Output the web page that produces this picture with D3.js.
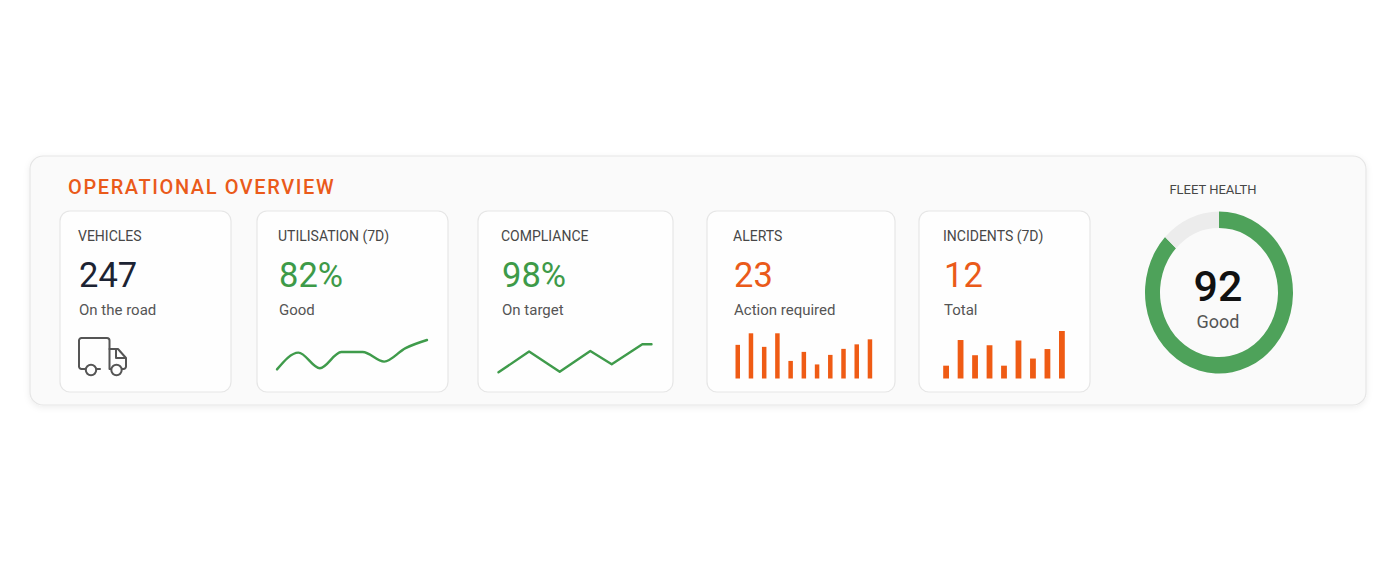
<!DOCTYPE html>
<html>
<head>
<meta charset="utf-8">
<script src="https://cdn.jsdelivr.net/npm/d3@7"></script>
<style>
  html, body { margin: 0; padding: 0; background: #ffffff; }
  svg { display: block; font-family: Roboto, "Noto Sans", sans-serif; }
</style>
</head>
<body>
<svg id="chart" width="1400" height="572"></svg>
<script>
// ---------------- DATA ----------------
const title = "OPERATIONAL OVERVIEW";
const cardLabels = ["VEHICLES", "UTILISATION (7D)", "COMPLIANCE", "ALERTS", "INCIDENTS (7D)"];
const cardValues = ["247", "82%", "98%", "23", "12"];
const cardNotes = ["On the road", "Good", "On target", "Action required", "Total"];
const cardTones = ["dark", "green", "green", "orange", "orange"];

const utilisationDays = [0, 1, 2, 3, 4, 5, 6, 7];
const utilisationValues = [74.2, 79.8, 74.6, 80, 80, 76.8, 81.3, 84];

const complianceDays = [0, 1, 2, 3, 3.7, 4.7, 5];
const complianceValues = [89.9, 97.3, 90.1, 97.5, 92.8, 99.9, 99.9];

const alertValues = [6.7, 9, 6.3, 9, 3.5, 5.3, 2.8, 4.7, 5.9, 6.8, 7.8];
const incidentValues = [2.7, 8.1, 4.9, 7, 2.7, 8, 4.2, 6.2, 10];

const fleetLabel = "FLEET HEALTH";
const fleetScore = "92";
const fleetNote = "Good";
const fleetArc = [87, 13]; // filled, remaining (as drawn)

// ---------------- STYLE / LAYOUT ----------------
const colors = {
  dark: "#1c2333", green: "#3d9a48", orange: "#ea5a1a",
  label: "#474747", note: "#555555", line: "#3f9b4b",
  bar: "#ef5b14", ring: "#4ea25a", track: "#ececec"
};
const cardBoxes = [
  { x: 60, w: 171, tx: 78 },
  { x: 257, w: 191, tx: 278 },
  { x: 478, w: 195, tx: 501 },
  { x: 707, w: 188, tx: 733 },
  { x: 919, w: 171, tx: 943 }
];
const cardTop = 211, cardH = 181;

const svg = d3.select("#chart");
const defs = svg.append("defs");
const f = defs.append("filter").attr("id", "sh").attr("x", "-5%").attr("y", "-10%").attr("width", "110%").attr("height", "130%");
f.append("feDropShadow").attr("dx", 0).attr("dy", 2).attr("stdDeviation", 3).attr("flood-color", "#000").attr("flood-opacity", 0.07);

// panel
svg.append("rect")
  .attr("x", 30).attr("y", 156).attr("width", 1336).attr("height", 249)
  .attr("rx", 13).attr("fill", "#fafafa").attr("stroke", "#e6e6e6").attr("stroke-width", 1.2)
  .attr("filter", "url(#sh)");

svg.append("text")
  .attr("x", 68).attr("y", 194)
  .attr("fill", colors.orange).attr("font-size", 20).attr("font-weight", 500)
  .attr("letter-spacing", 1.6)
  .text(title);

// cards
const cards = svg.selectAll("g.card").data(cardLabels).join("g").attr("class", "card");
cards.append("rect")
  .attr("x", (d, i) => cardBoxes[i].x).attr("y", cardTop)
  .attr("width", (d, i) => cardBoxes[i].w).attr("height", cardH)
  .attr("rx", 10).attr("fill", "#fefefe").attr("stroke", "#e6e6e6").attr("stroke-width", 1.2);
cards.append("text")
  .attr("x", (d, i) => cardBoxes[i].tx).attr("y", 241)
  .attr("fill", colors.label).attr("font-size", 14)
  .text(d => d);
cards.append("text")
  .attr("x", (d, i) => cardBoxes[i].tx + 1).attr("y", 287)
  .attr("fill", (d, i) => colors[cardTones[i]]).attr("font-size", 34.5)
  .text((d, i) => cardValues[i]);
cards.append("text")
  .attr("x", (d, i) => cardBoxes[i].tx + 1).attr("y", 315)
  .attr("fill", colors.note).attr("font-size", 15)
  .text((d, i) => cardNotes[i]);

// truck icon (vehicles card)
const truck = svg.append("g").attr("transform", "translate(79,338)")
  .attr("fill", "none").attr("stroke", "#555").attr("stroke-width", 2)
  .attr("stroke-linejoin", "round").attr("stroke-linecap", "round");
truck.append("path").attr("d", "M6,31 H2.5 a2.5,2.5 0 0 1 -2.5,-2.5 V2.5 a2.5,2.5 0 0 1 2.5,-2.5 H28 a2.5,2.5 0 0 1 2.5,2.5 V31 H32");
truck.append("path").attr("d", "M30.5,11 H39 L47,20 V28.5 a2.5,2.5 0 0 1 -2.5,2.5 H43");
truck.append("path").attr("d", "M18,31 H21");
truck.append("path").attr("d", "M37,12 V20 H46");
truck.append("circle").attr("cx", 12).attr("cy", 32).attr("r", 5.2);
truck.append("circle").attr("cx", 37.5).attr("cy", 32).attr("r", 5.2);

// utilisation sparkline
const ux = d3.scaleLinear().domain(d3.extent(utilisationDays)).range([277, 427]);
const uy = d3.scaleLinear().domain([74, 84]).range([370, 340]);
svg.append("path")
  .datum(utilisationValues)
  .attr("fill", "none").attr("stroke", colors.line).attr("stroke-width", 2.4).attr("stroke-linecap", "round")
  .attr("d", d3.line().x((d, i) => ux(utilisationDays[i])).y(d => uy(d)).curve(d3.curveMonotoneX));

// compliance sparkline
const cx = d3.scaleLinear().domain([0, 5]).range([498.5, 651.5]);
const cy = d3.scaleLinear().domain([90, 100]).range([372, 344]);
svg.append("path")
  .datum(complianceValues)
  .attr("fill", "none").attr("stroke", colors.line).attr("stroke-width", 2.4).attr("stroke-linecap", "round")
  .attr("stroke-linejoin", "round")
  .attr("d", d3.line().x((d, i) => cx(complianceDays[i])).y(d => cy(d)));

// alerts bars
const ax = d3.scaleBand().domain(d3.range(alertValues.length)).range([735.5, 872.2]).paddingInner(0.66).paddingOuter(0);
const ay = d3.scaleLinear().domain([0, 9]).range([378.5, 333.3]);
svg.append("g").selectAll("rect").data(alertValues).join("rect")
  .attr("x", (d, i) => ax(i)).attr("width", ax.bandwidth())
  .attr("y", d => ay(d)).attr("height", d => ay(0) - ay(d))
  .attr("fill", colors.bar);

// incidents bars
const ix = d3.scaleBand().domain(d3.range(incidentValues.length)).range([943.2, 1064.8]).paddingInner(0.6).paddingOuter(0);
const iy = d3.scaleLinear().domain([0, 10]).range([378.5, 331]);
svg.append("g").selectAll("rect").data(incidentValues).join("rect")
  .attr("x", (d, i) => ix(i)).attr("width", ix.bandwidth())
  .attr("y", d => iy(d)).attr("height", d => iy(0) - iy(d))
  .attr("fill", colors.bar);

// fleet health donut
svg.append("text")
  .attr("x", 1213).attr("y", 194).attr("text-anchor", "middle")
  .attr("fill", colors.label).attr("font-size", 13)
  .text(fleetLabel);
const donut = svg.append("g").attr("transform", "translate(1219,292.5) scale(1,1.095)");
const pie = d3.pie().sort(null).value(d => d);
const arc = d3.arc().innerRadius(59).outerRadius(74);
donut.selectAll("path").data(pie(fleetArc)).join("path")
  .attr("d", arc)
  .attr("fill", (d, i) => i === 0 ? colors.ring : colors.track);
svg.append("text")
  .attr("x", 1218).attr("y", 301).attr("text-anchor", "middle")
  .attr("fill", "#111").attr("font-size", 43).attr("font-weight", 500)
  .text(fleetScore);
svg.append("text")
  .attr("x", 1218).attr("y", 328).attr("text-anchor", "middle")
  .attr("fill", colors.note).attr("font-size", 18)
  .text(fleetNote);
</script>
</body>
</html>
